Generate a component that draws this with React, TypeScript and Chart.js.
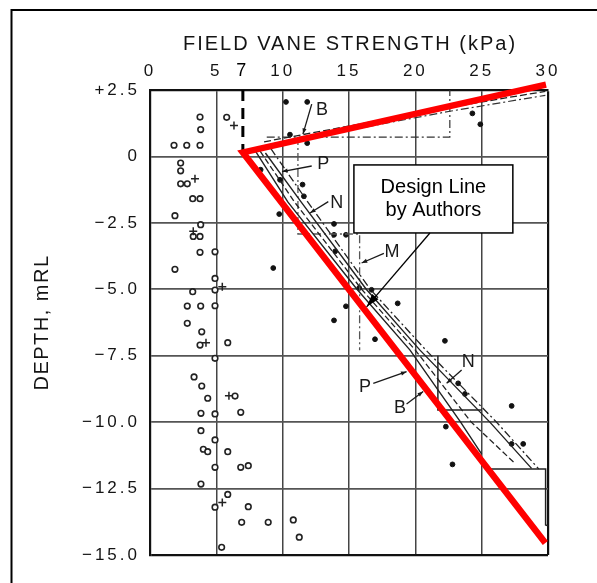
import React, { useEffect, useRef } from 'react';
import { Chart, registerables } from 'chart.js';
Chart.register(...registerables);

// ---------- data ----------
const xTickValues = [0, 5, 7, 10, 15, 20, 25, 30];
const xTickLabels = ['0', '5', '7', '10', '15', '20', '25', '30'];
const yTickValues = [2.5, 0, -2.5, -5, -7.5, -10, -12.5, -15];
const yTickLabels = ['+2.5', '0', '\u22122.5', '\u22125.0', '\u22127.5', '\u221210.0', '\u221212.5', '\u221215.0'];
const xTitle = 'FIELD VANE STRENGTH (kPa)';
const yTitle = 'DEPTH, mRL';
const calloutLines = ['Design Line', 'by Authors'];

const openCircles: number[][] = [
  [3.77, 1.48], [3.82, 1.01], [5.78, 1.47], [1.81, 0.42], [2.77, 0.42], [3.77, 0.42], [2.31, -0.25], [2.31, -0.54],
  [2.31, -1.03], [2.81, -1.03], [3.22, -1.59], [3.77, -1.59], [1.88, -2.23], [3.82, -2.57], [3.26, -3.01], [3.77, -3.01],
  [3.77, -3.61], [4.9, -3.59], [1.88, -4.25], [4.9, -4.59], [3.22, -5.09], [4.9, -5.03], [2.81, -5.63], [3.82, -5.63],
  [4.9, -5.62], [2.81, -6.28], [3.9, -6.6], [3.77, -7.1], [5.86, -7.01], [4.9, -7.6], [3.32, -8.3], [3.9, -8.64],
  [4.35, -9.1], [6.41, -9.02], [3.84, -9.67], [4.9, -9.69], [6.84, -9.63], [3.84, -10.32], [4.9, -10.67], [4.02, -11.02],
  [4.35, -11.11], [5.86, -11.11], [4.9, -11.7], [6.84, -11.7], [7.41, -11.64], [3.84, -12.33], [5.86, -12.72], [4.9, -13.2],
  [7.41, -13.18], [6.91, -13.77], [8.91, -13.77], [10.8, -13.68], [11.25, -14.33], [5.4, -14.71],
];
const plusMarks: number[][] = [
  [6.33, 1.16], [3.39, -0.84], [3.26, -2.82], [5.45, -4.9], [4.22, -7.01], [5.95, -9.01], [5.45, -13.02],
];
const filledDots: number[][] = [
  [10.25, 2.05], [11.85, 2.05], [10.55, 0.82], [11.85, 0.5], [24.3, 1.62], [24.9, 1.21], [9.74, -2.17], [11.6, -1.5],
  [13.87, -2.54], [13.87, -2.95], [14.77, -2.95], [9.29, -4.2], [13.87, -6.17], [18.67, -5.53], [14.77, -5.64],
  [8.34, -0.5], [9.8, -0.88], [11.5, -1.06], [13.96, -3.57], [15.77, -4.95], [16.7, -5.02], [16.96, -6.88],
  [22.23, -6.94], [23.23, -8.54], [23.74, -8.94], [27.26, -9.39], [22.3, -10.17], [28.13, -10.82], [27.26, -10.82],
  [22.8, -11.59],
];

const designLine: number[][] = [[29.85, 2.7], [7, 0.15], [29.8, -14.55]];
const cutoffLine: number[][] = [[7, 2.5], [7, 0.2]];

const upperB: number[][] = [[8.6, 0.55], [22.6, 1.85], [29.8, 2.45]];
const upperP: number[][] = [[9.2, 0.45], [22.6, 1.7], [29.8, 2.3]];
const upperStep: number[][] = [[8.8, 0.73], [22.6, 0.73], [22.6, 2.5]];
const lowerA: number[][] = [[7.9, 0.24], [10.4, -1.72], [15.6, -5.0], [19.6, -7.29], [23.4, -9.99], [25.0, -11.2]];
const lowerB: number[][] = [[8.3, 0.2], [10.9, -1.72], [15.95, -5.0], [20.0, -7.29], [24.2, -9.99], [27.4, -11.5]];
const lowerC: number[][] = [[8.7, 0.13], [11.4, -1.72], [16.3, -5.0], [20.35, -7.29], [25.6, -9.99], [28.76, -11.74]];
const lowerD: number[][] = [[9.1, 0.3], [11.9, -1.72], [16.6, -5.0], [20.8, -7.29], [26.1, -9.99], [29.3, -11.76]];
const boxUpper: number[][] = [[11.15, 0.73], [11.15, -2.92], [15.8, -2.92], [15.8, -7.29]];
const boxMid: number[][] = [[21.7, -7.5], [21.7, -9.54], [25, -9.54]];
const boxLow: number[][] = [[25.6, -11.76], [29.82, -11.76], [29.82, -13.87], [30, -13.9]];

const curveLabelText = ['B', 'P', 'N', 'M', 'N', 'P', 'B'];
const curveLabelAt: number[][] = [[12.96, 1.75], [13.06, -0.29], [14.07, -1.75], [18.24, -3.6], [23.99, -7.73], [16.2, -8.67], [18.84, -9.48]];
const leaderFrom: number[][] = [[12.19, 1.97], [12.19, -0.36], [13.44, -1.7], [17.63, -3.65], [23.49, -8.04], [16.83, -8.54], [19.34, -9.32]];
const leaderTo: number[][] = [[11.53, 0.84], [9.95, -0.57], [12.06, -2.13], [15.95, -4.01], [22.36, -8.54], [19.34, -8.1], [20.59, -8.85]];

const calloutBox: number[] = [15.37, -0.32, 27.35, -2.88];
const calloutArrowFrom: number[] = [21.1, -2.88];
const calloutArrowTo: number[] = [16.33, -5.66];

// ---------- helpers ----------
const pts = (a: number[][]) => a.map(([x, y]) => ({ x, y }));
const FONT = '"Liberation Sans", Arial, sans-serif';
const TEXT = '#141414';

function lineDs(data: number[][], color: string, width: number, dash: number[] = []) {
  return {
    type: 'scatter' as const,
    data: pts(data),
    showLine: true,
    borderColor: color,
    backgroundColor: color,
    borderWidth: width,
    borderDash: dash,
    pointRadius: 0,
    pointHoverRadius: 0,
  };
}

function drawArrow(ctx: CanvasRenderingContext2D, x1: number, y1: number, x2: number, y2: number, head: number, spread: number) {
  ctx.beginPath();
  ctx.moveTo(x1, y1);
  ctx.lineTo(x2, y2);
  ctx.stroke();
  const a = Math.atan2(y2 - y1, x2 - x1);
  ctx.beginPath();
  ctx.moveTo(x2, y2);
  ctx.lineTo(x2 - head * Math.cos(a - spread), y2 - head * Math.sin(a - spread));
  ctx.lineTo(x2 - head * Math.cos(a + spread), y2 - head * Math.sin(a + spread));
  ctx.closePath();
  ctx.fill();
}

const annotPlugin = {
  id: 'annot',
  beforeDraw(chart: any) {
    (chart.ctx as any).letterSpacing = '3px';
  },
  afterDatasetsDraw(chart: any) {
    const ctx: CanvasRenderingContext2D = chart.ctx;
    const sx = chart.scales.x, sy = chart.scales.y;
    const px = (v: number) => sx.getPixelForValue(v);
    const py = (v: number) => sy.getPixelForValue(v);
    ctx.save();
    (ctx as any).letterSpacing = '0px';
    ctx.fillStyle = '#1a1a1a';
    ctx.strokeStyle = '#1a1a1a';
    ctx.lineWidth = 1.3;
    ctx.font = `18px ${FONT}`;
    ctx.textAlign = 'center';
    ctx.textBaseline = 'middle';
    curveLabelText.forEach((t, i) => {
      ctx.fillText(t, px(curveLabelAt[i][0]), py(curveLabelAt[i][1]));
      drawArrow(ctx, px(leaderFrom[i][0]), py(leaderFrom[i][1]), px(leaderTo[i][0]), py(leaderTo[i][1]), 6, 0.35);
    });
    const bx1 = px(calloutBox[0]), by1 = py(calloutBox[1]), bx2 = px(calloutBox[2]), by2 = py(calloutBox[3]);
    ctx.fillStyle = '#fff';
    ctx.fillRect(bx1, by1, bx2 - bx1, by2 - by1);
    ctx.strokeStyle = '#000';
    ctx.lineWidth = 1.5;
    ctx.strokeRect(bx1, by1, bx2 - bx1, by2 - by1);
    ctx.fillStyle = '#000';
    ctx.font = `20px ${FONT}`;
    ctx.textAlign = 'center';
    ctx.textBaseline = 'alphabetic';
    const cx = (bx1 + bx2) / 2;
    ctx.fillText(calloutLines[0], cx, by1 + 28);
    ctx.fillText(calloutLines[1], cx, by1 + 51);
    ctx.lineWidth = 1.3;
    drawArrow(ctx, px(calloutArrowFrom[0]), py(calloutArrowFrom[1]), px(calloutArrowTo[0]), py(calloutArrowTo[1]), 14, 0.3);
    ctx.restore();
  },
  afterDraw(chart: any) {
    const ctx: CanvasRenderingContext2D = chart.ctx;
    const area = chart.chartArea;
    ctx.save();
    ctx.fillStyle = TEXT;
    (ctx as any).letterSpacing = '2px';
    ctx.font = `20px ${FONT}`;
    ctx.textAlign = 'center';
    ctx.textBaseline = 'alphabetic';
    ctx.fillText(xTitle, (area.left + area.right) / 2 + 1, area.top - 40);
    (ctx as any).letterSpacing = '1.5px';
    ctx.translate(48, (area.top + area.bottom) / 2);
    ctx.rotate(-Math.PI / 2);
    ctx.fillText(yTitle, 0, 0);
    ctx.restore();
    ctx.save();
    ctx.strokeStyle = '#000';
    ctx.lineWidth = 2;
    ctx.beginPath();
    ctx.moveTo(11.5, 583);
    ctx.lineTo(11.5, 10);
    ctx.lineTo(597, 10);
    ctx.stroke();
    ctx.restore();
    (ctx as any).letterSpacing = '0px';
  },
};

export default function App() {
  const ref = useRef<HTMLCanvasElement>(null);
  useEffect(() => {
    document.body.style.margin = '0';
    const chart = new Chart(ref.current as HTMLCanvasElement, {
      type: 'scatter',
      data: {
        datasets: [
          { ...lineDs(designLine, '#ff0000', 6.5), borderJoinStyle: 'miter', borderCapStyle: 'butt', clip: false } as any,
          lineDs(cutoffLine, '#000', 3, [11, 7]),
          lineDs(upperB, '#222', 1.3, [7, 3]),
          lineDs(upperP, '#333', 1.2, [8, 3, 2, 3]),
          lineDs(upperStep, '#333', 1.2, [8, 3, 2, 3]),
          lineDs(lowerA, '#222', 1.4),
          lineDs(lowerB, '#222', 1.3, [6, 3]),
          lineDs(lowerC, '#222', 1.4),
          lineDs(lowerD, '#222', 1.3, [8, 3, 2, 3]),
          lineDs(boxUpper, '#555', 1.3, [8, 3, 2, 3]),
          lineDs(boxMid, '#222', 1.5),
          lineDs(boxLow, '#222', 1.5),
          {
            type: 'scatter', data: pts(filledDots), pointStyle: 'circle', pointRadius: 2.4,
            backgroundColor: '#111', borderColor: '#111', borderWidth: 1,
          },
          {
            type: 'scatter', data: pts(plusMarks), pointStyle: 'cross', pointRadius: 4,
            borderColor: '#222', borderWidth: 1.5,
          },
          {
            type: 'scatter', data: pts(openCircles), pointStyle: 'circle', pointRadius: 2.8,
            backgroundColor: '#fff', borderColor: '#222', borderWidth: 1.6,
          },
        ] as any,
      },
      options: {
        responsive: false,
        animation: false,
        devicePixelRatio: 1,
        events: [],
        layout: { padding: { left: 0, top: 0, right: 49, bottom: 28 } },
        plugins: { legend: { display: false }, tooltip: { enabled: false } },
        scales: {
          x: {
            type: 'linear',
            position: 'top',
            min: 0,
            max: 30,
            afterFit: (s: any) => { s.height = 90; },
            afterBuildTicks: (s: any) => { s.ticks = xTickValues.map((v) => ({ value: v })); },
            grid: {
              drawTicks: false,
              color: (c: any) => (c.tick && c.tick.value === 7 ? 'rgba(0,0,0,0)' : c.tick && c.tick.value === 30 ? '#111' : '#444'),
              lineWidth: (c: any) => (c.tick && c.tick.value === 30 ? 2.2 : 1.5),
            },
            border: { color: '#111', width: 2.2 },
            ticks: {
              autoSkip: false,
              maxRotation: 0,
              minRotation: 0,
              padding: 8,
              callback: (v: any) => xTickLabels[xTickValues.indexOf(Number(v))] ?? '',
              color: (c: any) => (c.tick && c.tick.value === 7 ? '#000' : TEXT),
              font: (c: any) => (c.tick && c.tick.value === 7 ? { family: FONT, size: 18 } : { family: FONT, size: 17 }),
            },
          },
          y: {
            type: 'linear',
            position: 'left',
            min: -15,
            max: 2.5,
            afterFit: (s: any) => { s.width = 150; },
            afterBuildTicks: (s: any) => { s.ticks = yTickValues.slice().reverse().map((v) => ({ value: v })); },
            grid: {
              drawTicks: false,
              color: (c: any) => (c.tick && c.tick.value === -15 ? '#111' : '#555'),
              lineWidth: (c: any) => (c.tick && c.tick.value === -15 ? 2.2 : 1.7),
            },
            border: { color: '#111', width: 2.2 },
            ticks: {
              autoSkip: false,
              padding: 10,
              callback: (v: any) => yTickLabels[yTickValues.indexOf(Number(v))] ?? '',
              color: TEXT,
              font: { family: FONT, size: 17 },
            },
          },
        },
      } as any,
      plugins: [annotPlugin],
    });
    return () => chart.destroy();
  }, []);
  return (
    <div style={{ width: 597, height: 583 }}>
      <canvas ref={ref} width={597} height={583} style={{ display: 'block' }} />
    </div>
  );
}
